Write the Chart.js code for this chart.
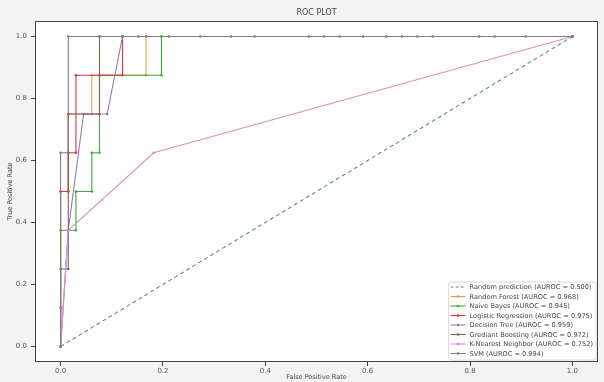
<!DOCTYPE html>
<html><head><meta charset="utf-8">
<script src="https://cdn.jsdelivr.net/npm/chart.js@4.4.0/dist/chart.umd.min.js"></script>
<style>html,body{margin:0;padding:0;background:#f3f3f3;}#wrap{width:604px;height:382px;}</style>
</head><body><div id="wrap"><canvas id="c" width="604" height="382"></canvas></div>
<script>
// ---- data ----
const chartTitle = 'ROC PLOT';
const xTitle = 'False Positive Rate';
const yTitle = 'True Positive Rate';
const xTicks = [0, 0.2, 0.4, 0.6, 0.8, 1.0];
const yTicks = [0, 0.2, 0.4, 0.6, 0.8, 1.0];

const modelNames = ['Random prediction', 'Random Forest', 'Naive Bayes', 'Logistic Regression',
  'Decision Tree', 'Grediant Boosting', 'K-Nearest Neighbor', 'SVM'];
const aurocs = [0.500, 0.968, 0.945, 0.975, 0.959, 0.972, 0.752, 0.994];

const fprRandom = [0, 1];
const tprRandom = [0, 1];
const fprRF = [0, 0, 0.015, 0.015, 0.061, 0.061, 0.167, 0.167, 1];
const tprRF = [0, 0.5, 0.5, 0.75, 0.75, 0.875, 0.875, 1, 1];
const fprNB = [0, 0, 0.030, 0.030, 0.061, 0.061, 0.076, 0.076, 0.197, 0.197, 1];
const tprNB = [0, 0.375, 0.375, 0.5, 0.5, 0.625, 0.625, 0.875, 0.875, 1, 1];
const fprLR = [0, 0, 0.015, 0.015, 0.030, 0.030, 0.121, 0.121, 1];
const tprLR = [0, 0.5, 0.5, 0.625, 0.625, 0.875, 0.875, 1, 1];
const fprDT = [0, 0.015, 0.045, 0.091, 0.121, 1];
const tprDT = [0, 0.375, 0.75, 0.75, 1, 1];
const fprGB = [0, 0, 0, 0.015, 0.015, 0.076, 0.076, 1];
const tprGB = [0, 0.125, 0.25, 0.25, 0.75, 0.75, 1, 1];
const fprKNN = [0, 0.015, 0.182, 1];
const tprKNN = [0, 0.375, 0.625, 1];
const fprSVM = [0, 0, 0.015, 0.015, 0.076, 0.121, 0.152, 0.167, 0.197, 0.212, 0.273, 0.333, 0.379,
  0.485, 0.515, 0.545, 0.591, 0.636, 0.667, 0.697, 0.727, 0.818, 0.848, 0.909, 1];
const tprSVM = [0, 0.625, 0.625, 1, 1, 1, 1, 1, 1, 1, 1, 1, 1, 1, 1, 1, 1, 1, 1, 1, 1, 1, 1, 1, 1];

const colors = ['#5a8aa8', '#f39a45', '#3fa63f', '#d23a3a', '#9577bd', '#8c5f55', '#de8ccb', '#808080'];

const series = [
  [fprRandom, tprRandom], [fprRF, tprRF], [fprNB, tprNB], [fprLR, tprLR],
  [fprDT, tprDT], [fprGB, tprGB], [fprKNN, tprKNN], [fprSVM, tprSVM]
];

const FONT = '"DejaVu Sans", sans-serif';
const labels = modelNames.map((n, i) => `${n} (AUROC = ${aurocs[i].toFixed(3)})`);

const datasets = series.map(([fx, ty], i) => ({
  label: labels[i],
  data: fx.map((x, k) => ({ x: x, y: ty[k] })),
  showLine: true,
  borderColor: colors[i],
  backgroundColor: colors[i],
  borderWidth: 1.1,
  borderDash: i === 0 ? [4, 3] : [],
  pointRadius: i === 0 ? 0 : 1.3,
  pointBorderWidth: 0,
  pointBackgroundColor: colors[i],
  order: series.length - i,
  tension: 0
}));

const framePlugin = {
  id: 'frame',
  beforeDatasetsDraw(chart) {
    const { ctx, chartArea: a } = chart;
    ctx.save();
    ctx.fillStyle = '#ffffff';
    ctx.fillRect(a.left, a.top, a.right - a.left, a.bottom - a.top);
    ctx.restore();
  },
  afterDraw(chart) {
    const { ctx, chartArea: a } = chart;
    ctx.save();
    ctx.strokeStyle = '#444';
    ctx.lineWidth = 1;
    ctx.strokeRect(Math.round(a.left) + 0.5, Math.round(a.top) + 0.5,
      Math.round(a.right - a.left) - 1, Math.round(a.bottom - a.top) - 1);
    // legend inside, lower right
    const fs = 6.6;
    ctx.font = `${fs}px ${FONT}`;
    let tw = 0;
    labels.forEach(t => { tw = Math.max(tw, ctx.measureText(t).width); });
    const lineH = 9.5;
    const boxW = 21 + tw + 3;
    const boxH = 78;
    const bx = a.right - 2 - boxW;
    const by = a.bottom - 2 - boxH;
    ctx.fillStyle = 'rgba(255,255,255,0.85)';
    ctx.strokeStyle = '#d0d0d0';
    ctx.lineWidth = 0.8;
    ctx.beginPath();
    if (ctx.roundRect) ctx.roundRect(bx, by, boxW, boxH, 2); else ctx.rect(bx, by, boxW, boxH);
    ctx.fill();
    ctx.stroke();
    labels.forEach((t, i) => {
      const cy = by + 5 + i * lineH;
      ctx.strokeStyle = colors[i];
      ctx.lineWidth = 1.1;
      ctx.setLineDash(i === 0 ? [3, 2] : []);
      ctx.beginPath();
      ctx.moveTo(bx + 2, cy);
      ctx.lineTo(bx + 17, cy);
      ctx.stroke();
      ctx.setLineDash([]);
      if (i !== 0) {
        ctx.fillStyle = colors[i];
        ctx.beginPath();
        ctx.arc(bx + 9.5, cy, 1.3, 0, Math.PI * 2);
        ctx.fill();
      }
      ctx.fillStyle = '#444';
      ctx.textBaseline = 'middle';
      ctx.textAlign = 'left';
      ctx.fillText(t, bx + 21, cy + 0.5);
    });
    ctx.restore();
  }
};

function axis(ticksArr, titleText, isX) {
  return {
    type: 'linear',
    min: -0.05,
    max: 1.05,
    afterBuildTicks: s => { s.ticks = ticksArr.map(v => ({ value: v })); },
    afterFit: s => { if (isX) s.height = 20; else s.width = 35; },
    ticks: {
      callback: v => Number(v).toFixed(1),
      font: { size: 7, family: FONT },
      color: '#555',
      padding: isX ? 1 : 4,
      autoSkip: false,
      maxRotation: 0
    },
    grid: { drawOnChartArea: false, drawTicks: true, tickLength: 4, color: '#444', tickColor: '#444' },
    border: { display: false },
    title: {
      display: true,
      text: titleText,
      font: { size: 6.5, family: FONT },
      color: '#444',
      padding: isX ? { top: 0, bottom: 1 } : { top: 6, bottom: 0 }
    }
  };
}

new Chart(document.getElementById('c'), {
  type: 'scatter',
  data: { datasets },
  options: {
    responsive: false,
    animation: false,
    devicePixelRatio: 1,
    layout: { padding: { left: 0, right: 6, top: 0, bottom: 0 } },
    scales: { x: axis(xTicks, xTitle, true), y: axis(yTicks, yTitle, false) },
    plugins: {
      legend: { display: false },
      tooltip: { enabled: false },
      title: {
        display: true,
        text: chartTitle,
        fullSize: false,
        font: { size: 8, weight: 'normal', family: FONT },
        color: '#444',
        padding: { top: 8, bottom: 3.4 }
      }
    }
  },
  plugins: [framePlugin]
});
</script></body></html>
